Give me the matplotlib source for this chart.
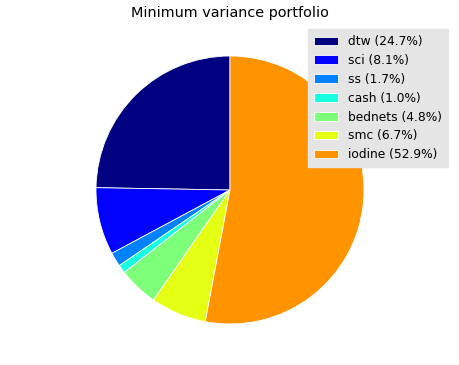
import matplotlib
matplotlib.use("Agg")
import matplotlib.pyplot as plt
import numpy as np

categories = ["dtw", "sci", "ss", "cash", "bednets", "smc", "iodine"]
weights = [24.7, 8.1, 1.7, 1.0, 4.8, 6.7, 52.9]

colors = plt.cm.jet(np.arange(len(categories)) / 8.0)

fig = plt.figure(figsize=(4.6, 3.65), dpi=100)
r = 134.0
cx, cy = 230.0, 365 - 190.0
ext = 2.2 * r
ax = fig.add_axes([(cx - ext / 2) / 460, (cy - ext / 2) / 365, ext / 460, ext / 365])
wedges, _ = ax.pie(weights, colors=colors, startangle=90, counterclock=True,
                   wedgeprops=dict(edgecolor="white", linewidth=0.6))
ax.set_xlim(-1.1, 1.1)
ax.set_ylim(-1.1, 1.1)
ax.set_aspect("equal")
ax.axis("off")

fig.text(230 / 460, 1 - 13 / 365, "Minimum variance portfolio", ha="center", va="center", fontsize=10.4)

labels = [f"{c} ({w:.1f}%)" for c, w in zip(categories, weights)]
leg = fig.legend(wedges, labels, loc="upper right", bbox_to_anchor=(448 / 460, 1 - 29 / 365),
                 fontsize=8.8, frameon=True, fancybox=False, borderaxespad=0,
                 handlelength=2.0, labelspacing=0.48, borderpad=0.5)
leg.get_frame().set_facecolor("#e5e5e5")
leg.get_frame().set_edgecolor("#e5e5e5")
leg.get_frame().set_alpha(1)

fig.savefig("out.png", dpi=100)
